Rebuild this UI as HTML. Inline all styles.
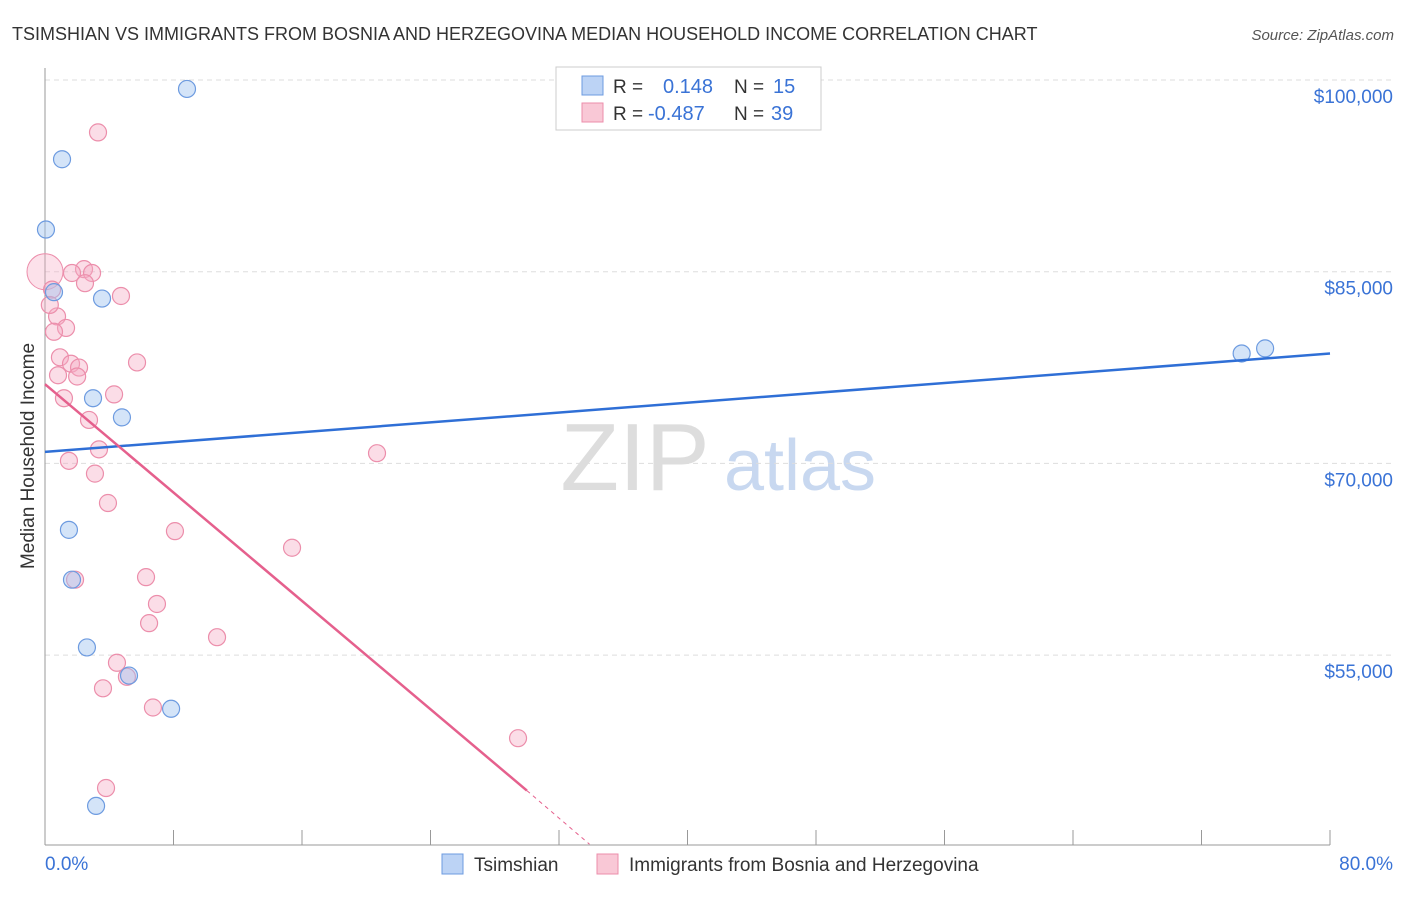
<!DOCTYPE html>
<html><head><meta charset="utf-8"><style>
body{margin:0;background:#fff;font-family:"Liberation Sans",sans-serif;}
svg text{font-family:"Liberation Sans",sans-serif;}
</style></head><body>
<svg width="1406" height="892" xmlns="http://www.w3.org/2000/svg">
<text x="12" y="40" font-size="18" fill="#333">TSIMSHIAN VS IMMIGRANTS FROM BOSNIA AND HERZEGOVINA MEDIAN HOUSEHOLD INCOME CORRELATION CHART</text>
<text x="1394" y="40" font-size="15" fill="#555" font-style="italic" text-anchor="end">Source: ZipAtlas.com</text>
<g><text x="635" y="490" font-size="96" fill="#ddd" text-anchor="middle" font-family="Liberation Serif">ZIP</text><text x="800" y="490" font-size="72" fill="#c8d8f0" text-anchor="middle">atlas</text></g>
<g id="grid"></g><g id="axes"></g><g id="marks"></g>
<text transform="translate(34,456) rotate(-90)" font-size="19" fill="#333" text-anchor="middle">Median Household Income</text>
<text x="45" y="870" font-size="19" fill="#3a73d6">0.0%</text>
<text x="1393" y="870" font-size="19" fill="#3a73d6" text-anchor="end">80.0%</text>
<g>
<rect x="556" y="67" width="265" height="63" fill="#fff" stroke="#ccc"/>
<rect x="582" y="76" width="21" height="19" fill="#bcd3f5" stroke="#6d9be0"/>
<rect x="582" y="103" width="21" height="19" fill="#f9c8d6" stroke="#ec8eab"/>
<text x="613" y="93" font-size="19" fill="#333">R =</text><text x="663" y="93" font-size="20" fill="#3a73d6">0.148</text>
<text x="734" y="93" font-size="19" fill="#333">N =</text><text x="773" y="93" font-size="20" fill="#3a73d6">15</text>
<text x="613" y="120" font-size="19" fill="#333">R =</text><text x="648" y="120" font-size="20" fill="#3a73d6">-0.487</text>
<text x="734" y="120" font-size="19" fill="#333">N =</text><text x="771" y="120" font-size="20" fill="#3a73d6">39</text>
</g>
<g>
<rect x="442" y="854" width="21" height="20" fill="#bcd3f5" stroke="#6d9be0"/>
<text x="474" y="871" font-size="19" fill="#333">Tsimshian</text>
<rect x="597" y="854" width="21" height="20" fill="#f9c8d6" stroke="#ec8eab"/>
<text x="629" y="871" font-size="19" fill="#333">Immigrants from Bosnia and Herzegovina</text>
</g>
</svg>
<script>
const yTicks=[100000,85000,70000,55000];
const yTickLabels=["$100,000","$85,000","$70,000","$55,000"];
const xTicks=[0,8,16,24,32,40,48,56,64,72,80];
const blueX=[8.84,1.06,0.06,0.56,3.55,2.99,4.79,1.49,1.68,2.61,5.23,7.85,3.18,74.5,75.96];
const blueY=[99.3,93.8,88.3,83.4,82.9,75.1,73.6,64.8,60.9,55.6,53.4,50.8,43.2,78.6,79.0];
const pinkX=[3.3,2.43,2.93,1.68,2.49,4.73,0.44,0.75,1.31,0.56,0.93,1.62,2.12,0.81,2.0,5.73,1.18,4.3,2.74,3.36,1.49,3.11,20.67,3.92,8.09,15.38,1.87,6.29,6.97,6.48,10.71,4.48,5.1,3.61,6.72,29.45,3.8,0.3];
const pinkY=[95.9,85.2,84.9,84.9,84.1,83.1,83.6,81.5,80.6,80.3,78.3,77.8,77.5,76.9,76.8,77.9,75.1,75.4,73.4,71.1,70.2,69.2,70.8,66.9,64.7,63.4,60.9,61.1,59.0,57.5,56.4,54.4,53.3,52.4,50.9,48.5,44.6,82.4];
const pinkBig=[0,85.0];
const blueTrend=[[0,70.9],[80,78.6]];
const pinkTrend=[[0,76.2],[30,44.4],[33.9,40.2]];
const NS="http://www.w3.org/2000/svg";
const sx=v=>45+v/80*1285;
const sy=v=>80+(100-v)*12.78;
function mk(t,a,p){const e=document.createElementNS(NS,t);for(const k in a)e.setAttribute(k,a[k]);document.getElementById(p).appendChild(e);return e;}
yTicks.forEach((t,i)=>{const y=sy(t/1000);
const g=mk('line',{x1:45,x2:1393,y1:y,y2:y,stroke:'#ddd','stroke-dasharray':'5,4'},'grid');


const l=mk('text',{x:1393,y:y+23,'font-size':19,fill:'#3a73d6','text-anchor':'end'},'grid');


l.textContent=yTickLabels[i];});
const ax=mk('line',{x1:45,x2:45,y1:68,y2:845,stroke:'#999'},'axes');


const xa=mk('line',{x1:45,x2:1330,y1:845,y2:845,stroke:'#999'},'axes');


xTicks.forEach(t=>{const x=sx(t);const e=mk('line',{x1:x,x2:x,y1:830,y2:845,stroke:'#999'},'axes');

});
function dot(x,y,r,blue){const c=mk('circle',{cx:sx(x),cy:sy(y),r:r,fill:blue?'rgba(160,195,240,0.45)':'rgba(246,170,195,0.4)',stroke:blue?'#6d9be0':'#ec8eab','stroke-width':1.2},'marks');

}
const big=mk('circle',{cx:sx(pinkBig[0]),cy:sy(pinkBig[1]),r:18,fill:'rgba(246,170,195,0.35)',stroke:'#ec8eab','stroke-width':1},'marks');


pinkX.forEach((x,i)=>dot(x,pinkY[i],8.5,false));
blueX.forEach((x,i)=>dot(x,blueY[i],8.5,true));
const bt=mk('line',{x1:sx(blueTrend[0][0]),y1:sy(blueTrend[0][1]),x2:sx(blueTrend[1][0]),y2:sy(blueTrend[1][1]),stroke:'#2f6fd6','stroke-width':2.5},'marks');


const pt=mk('line',{x1:sx(pinkTrend[0][0]),y1:sy(pinkTrend[0][1]),x2:sx(pinkTrend[1][0]),y2:sy(pinkTrend[1][1]),stroke:'#e5608d','stroke-width':2.5},'marks');


const pd=mk('line',{x1:sx(pinkTrend[1][0]),y1:sy(pinkTrend[1][1]),x2:sx(pinkTrend[2][0]),y2:sy(pinkTrend[2][1]),stroke:'#e5608d','stroke-width':1,'stroke-dasharray':'4,4'},'marks');


</script>
</body></html>
